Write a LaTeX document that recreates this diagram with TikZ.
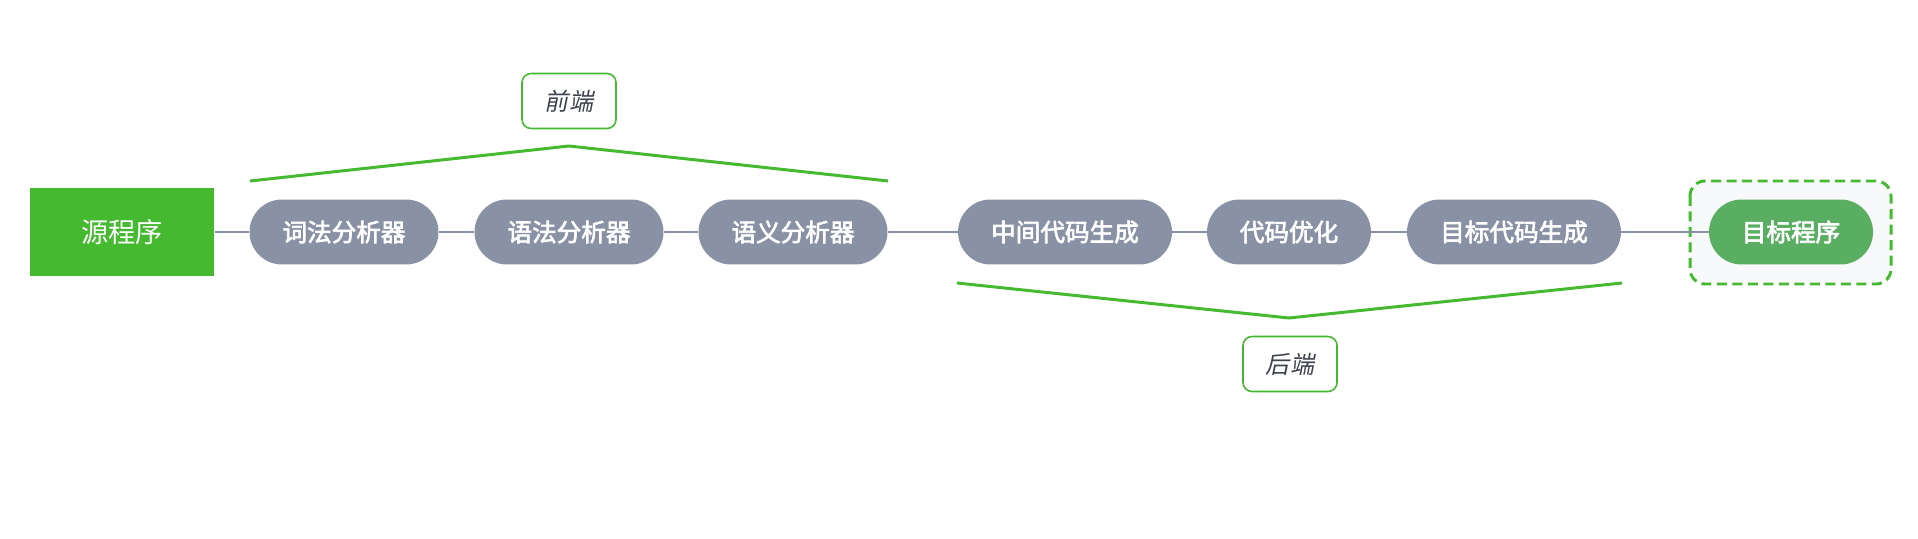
\documentclass[tikz,border=0pt]{standalone}
\usepackage{fontspec}
\usepackage{tikz}
\usetikzlibrary{positioning, calc}
\newfontfamily\cjk{Noto Sans CJK SC}
\newfontfamily\cjkmed[FakeBold=2.8]{Noto Sans CJK SC}
\newfontfamily\cjkit[FakeSlant=0.2]{Noto Sans CJK SC}
\definecolor{srcgreen}{RGB}{69,186,49}
\definecolor{tgtgreen}{RGB}{90,174,98}
\definecolor{pillgray}{RGB}{136,146,164}
\definecolor{linkgray}{RGB}{136,146,164}
\definecolor{txtdark}{RGB}{62,66,76}
\definecolor{boxbg}{RGB}{247,249,251}
\tikzset{
  srcbox/.style={rectangle, fill=srcgreen, text=white,
    minimum width=3.7cm, minimum height=1.78cm,
    font=\cjk\fontsize{15.5}{18}\selectfont, inner sep=0pt},
  pill/.style={rectangle, fill=pillgray, text=white,
    minimum height=1.3cm, rounded corners=0.65cm,
    font=\cjkmed\fontsize{14}{16}\selectfont, inner sep=0pt},
  tgtpill/.style={pill, fill=tgtgreen},
  tagbox/.style={rectangle, draw=srcgreen, fill=white, text=txtdark,
    minimum width=1.88cm, minimum height=1.1cm, rounded corners=0.18cm,
    line width=0.9pt, font=\cjkit\fontsize{13.7}{16}\selectfont, inner sep=0pt},
  link/.style={line width=1.1pt, color=linkgray},
  brace/.style={line width=1.7pt, color=srcgreen},
  holder/.style={draw=srcgreen, fill=boxbg, line width=1.7pt,
    dash pattern=on 0.2cm off 0.11cm, rounded corners=0.3cm}
}

\begin{document}
\begin{tikzpicture}[x=0.02cm, y=-0.02cm]
  \useasboundingbox (0,0) rectangle (1918,538);

  % dashed holder round the result
  \draw[holder] (1690,181) rectangle (1891,284);

  % pipeline
  \node[srcbox] (src) at (122,232) {源程序};
  \node[pill, minimum width=3.78cm] (cifa) at (344,232) {词法分析器};
  \node[pill, minimum width=3.78cm] (yufa) at (569,232) {语法分析器};
  \node[pill, minimum width=3.78cm] (yuyi) at (793,232) {语义分析器};
  \node[pill, minimum width=4.28cm] (zjdm) at (1065,232) {中间代码生成};
  \node[pill, minimum width=3.28cm] (dmyh) at (1289,232) {代码优化};
  \node[pill, minimum width=4.28cm] (mbdm) at (1514,232) {目标代码生成};
  \node[tgtpill, minimum width=3.28cm] (tgt) at (1791,232) {目标程序};

  \draw[link] (src) -- (cifa);
  \draw[link] (cifa) -- (yufa);
  \draw[link] (yufa) -- (yuyi);
  \draw[link] (yuyi) -- (zjdm);
  \draw[link] (zjdm) -- (dmyh);
  \draw[link] (dmyh) -- (mbdm);
  \draw[link] (mbdm) -- (tgt);

  % front end
  \coordinate (fa) at (250,181);
  \coordinate (fb) at (569,146);
  \coordinate (fc) at (888,181);
  \draw[brace] (fa) -- (fb) -- (fc);
  \node[tagbox] (front) at (569,101) {前端};

  % back end
  \coordinate (ba) at (957,283);
  \coordinate (bb) at (1289,318);
  \coordinate (bc) at (1622,283);
  \draw[brace] (ba) -- (bb) -- (bc);
  \node[tagbox] (back) at (1290,364) {后端};

\end{tikzpicture}
\end{document}
